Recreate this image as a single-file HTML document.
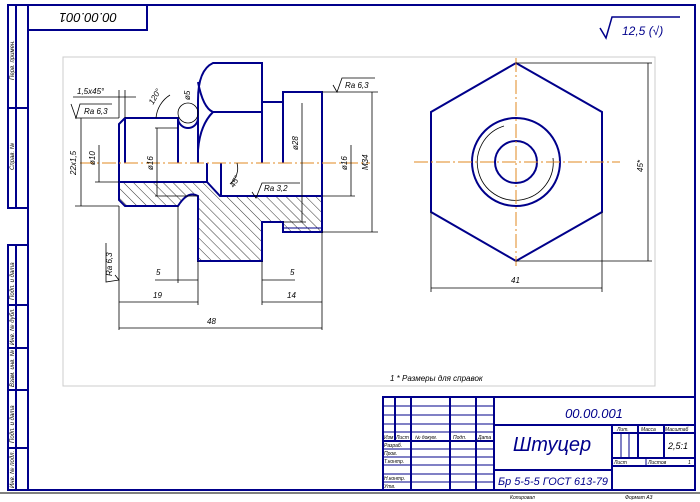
<!DOCTYPE html>
<html><head><meta charset="utf-8"><style>html,body{margin:0;padding:0;background:#fff}svg{display:block}</style></head>
<body>
<svg width="700" height="502" viewBox="0 0 700 502" xmlns="http://www.w3.org/2000/svg" font-family="Liberation Sans, sans-serif" font-style="italic">
<defs>
<pattern id="h" patternUnits="userSpaceOnUse" width="7" height="7" patternTransform="rotate(-45)">
<line x1="0" y1="0" x2="0" y2="7" stroke="#000" stroke-width="0.8"/>
</pattern>
</defs>
<rect x="0" y="0" width="700" height="502" fill="#fff"/>
<rect x="63" y="57" width="592" height="329" fill="none" stroke="#ccc" stroke-width="1"/>
<g fill="none" stroke="#00008b" stroke-width="2">
<rect x="28" y="5" width="667" height="485"/>
<rect x="28" y="5" width="119" height="25"/>
<rect x="8" y="5" width="20" height="203"/>
<line x1="16" y1="5" x2="16" y2="208"/><line x1="8" y1="108" x2="28" y2="108"/>
<rect x="8" y="245" width="20" height="245"/>
<line x1="16" y1="245" x2="16" y2="490"/>
<line x1="8" y1="305" x2="28" y2="305"/><line x1="8" y1="348" x2="28" y2="348"/>
<line x1="8" y1="390" x2="28" y2="390"/><line x1="8" y1="448" x2="28" y2="448"/>
</g>
<line x1="0" y1="493" x2="700" y2="493" stroke="#000" stroke-width="1"/>
<text x="88" y="23" font-size="13" fill="#000" text-anchor="middle" transform="rotate(180 88 18)">00.00.001</text>
<g font-size="6" fill="#000">
<text transform="translate(14,80) rotate(-90)">Перв. примен.</text>
<text transform="translate(14,170) rotate(-90)">Справ. №</text>
<text transform="translate(14,300) rotate(-90)">Подп. и дата</text>
<text transform="translate(14,345) rotate(-90)">Инв. № дубл.</text>
<text transform="translate(14,387) rotate(-90)">Взам. инв. №</text>
<text transform="translate(14,443) rotate(-90)">Подп. и дата</text>
<text transform="translate(14,488) rotate(-90)">Инв. № подл.</text>
</g>
<path d="M600,28 L606,38 L612,17 L680,17" fill="none" stroke="#00008b" stroke-width="1.5"/>
<text x="622" y="35" font-size="12" fill="#00008b">12,5 (√)</text>

<path d="M119,182 L207,182 L220,196 L322,196 L322,232 L283,232 L283,222 L262,222 L262,261 L198,261 L198,196 Q188,190 178,206 L125,206 L119,200 Z" fill="url(#h)" stroke="none"/>
<g fill="none" stroke="#00008b" stroke-width="2">
<path d="M119,182 L207,182 L220,196 L322,196 L322,232 L283,232 L283,222 L262,222 L262,261 L198,261 L198,196 Q188,190 178,206 L125,206 L119,200 Z"/>
<path d="M119,182 L119,124 L125,118 L178,118 A10,10 0 0 0 198,118"/>
<line x1="125" y1="118" x2="125" y2="163"/>
<line x1="178" y1="118" x2="178" y2="163"/>
<path d="M198,163 L198,100 Q198,70 213,63 L262,63 L262,163"/>
<path d="M198,82 Q203,108 213,112 L262,112"/>
<path d="M213,112 Q200,125 198,150"/>
<path d="M262,102 L283,102"/>
<path d="M283,163 L283,92 L322,92 L322,196"/>
<line x1="207" y1="163" x2="207" y2="182"/>
<line x1="221" y1="163" x2="221" y2="196"/>
<line x1="283" y1="228" x2="322" y2="228" stroke-width="1"/>
</g>
<line x1="80" y1="163" x2="370" y2="163" stroke="#e08a20" stroke-width="1" stroke-dasharray="14,3,2,3"/>
<circle cx="188" cy="113" r="10" fill="none" stroke="#000" stroke-width="0.8"/>
<g stroke="#000" stroke-width="0.8" fill="none">
<line x1="119" y1="206" x2="119" y2="330"/><line x1="198" y1="261" x2="198" y2="305"/>
<line x1="262" y1="261" x2="262" y2="305"/><line x1="322" y1="232" x2="322" y2="330"/>
<line x1="178" y1="206" x2="178" y2="283"/>
<line x1="119" y1="302" x2="198" y2="302"/><line x1="262" y1="302" x2="322" y2="302"/>
<line x1="119" y1="328" x2="322" y2="328"/>
<line x1="155" y1="280" x2="198" y2="280"/><line x1="262" y1="280" x2="295" y2="280"/>
<line x1="81" y1="118" x2="81" y2="206"/><line x1="75" y1="118" x2="119" y2="118"/><line x1="75" y1="206" x2="119" y2="206"/>
<line x1="99" y1="145" x2="99" y2="182"/><line x1="95" y1="182" x2="119" y2="182"/>
<line x1="157" y1="128" x2="157" y2="196"/><line x1="155" y1="128" x2="178" y2="128"/><line x1="155" y1="196" x2="198" y2="196"/>
<line x1="322" y1="92" x2="378" y2="92"/><line x1="322" y1="232" x2="378" y2="232"/>
<line x1="372" y1="92" x2="372" y2="232"/>
<line x1="351" y1="145" x2="351" y2="196"/><line x1="322" y1="196" x2="355" y2="196"/>
<line x1="302" y1="103" x2="302" y2="222"/><line x1="283" y1="222" x2="306" y2="222"/>
<line x1="73" y1="97" x2="136" y2="97"/><line x1="119" y1="90" x2="119" y2="118"/><line x1="125" y1="90" x2="125" y2="118"/>
<path d="M156,118 A30,30 0 0 1 170,95"/>
<path d="M237,163 A20,20 0 0 1 230,184"/>
<path d="M71,104 L76,118 L80,104 L112,104"/>
<path d="M333,85 L337,92 L342,78 L375,78"/>
<path d="M252,192 L256,198 L262,183 L300,183"/>
<path d="M115,275 L119,280 L106,282 L106,243"/>
</g>
<g fill="#000" font-size="8">
<text x="77" y="94">1,5x45°</text>
<text x="84" y="114">Ra 6,3</text>
<text x="345" y="88">Ra 6,3</text>
<text x="264" y="191">Ra 3,2</text>
<text transform="translate(112,276) rotate(-90)">Ra 6,3</text>
<text x="156" y="275">5</text><text x="290" y="275">5</text>
<text x="153" y="298">19</text><text x="287" y="298">14</text>
<text x="207" y="324">48</text>
<text transform="translate(76,175) rotate(-90)">22x1,5</text>
<text transform="translate(95,165) rotate(-90)">ø10</text>
<text transform="translate(153,170) rotate(-90)">ø16</text>
<text transform="translate(298,150) rotate(-90)">ø28</text>
<text transform="translate(347,170) rotate(-90)">ø16</text>
<text transform="translate(368,170) rotate(-90)">M34</text>
<text transform="translate(190,100) rotate(-90)">ø5</text>
<text transform="translate(153,105) rotate(-60)">120°</text>
<text transform="translate(234,188) rotate(-60)">45°</text>
</g>
<polygon points="516,63 602,112 602,212 516,261 431,212 431,112" fill="none" stroke="#00008b" stroke-width="2"/>
<circle cx="516" cy="162" r="44" fill="none" stroke="#00008b" stroke-width="2"/>
<circle cx="516" cy="162" r="21" fill="none" stroke="#00008b" stroke-width="2"/>
<path d="M504,126 A38,38 0 1 0 553,158" fill="none" stroke="#000" stroke-width="0.8"/>
<line x1="414" y1="162" x2="620" y2="162" stroke="#e08a20" stroke-width="1" stroke-dasharray="14,3,2,3"/>
<line x1="516" y1="58" x2="516" y2="266" stroke="#e08a20" stroke-width="1" stroke-dasharray="14,3,2,3"/>
<g stroke="#000" stroke-width="0.8">
<line x1="516" y1="63" x2="652" y2="63"/><line x1="516" y1="261" x2="652" y2="261"/>
<line x1="648" y1="63" x2="648" y2="261"/>
<line x1="431" y1="212" x2="431" y2="292"/><line x1="602" y1="212" x2="602" y2="292"/>
<line x1="431" y1="288" x2="602" y2="288"/>
</g>
<text x="511" y="283" font-size="8">41</text>
<text transform="translate(643,172) rotate(-90)" font-size="8">45*</text>
<text x="390" y="381" font-size="8">1  * Размеры для справок</text>
<g fill="none" stroke="#00008b" stroke-width="2">
<rect x="383" y="397" width="312" height="93"/>
<line x1="395" y1="397" x2="395" y2="441"/><line x1="411" y1="397" x2="411" y2="490"/>
<line x1="450" y1="397" x2="450" y2="490"/><line x1="476" y1="397" x2="476" y2="490"/>
<line x1="494" y1="397" x2="494" y2="490"/>
<line x1="494" y1="425" x2="695" y2="425"/><line x1="494" y1="470" x2="612" y2="470"/>
<line x1="612" y1="425" x2="612" y2="490"/><line x1="612" y1="458" x2="695" y2="458"/>
<line x1="612" y1="466" x2="695" y2="466"/><line x1="612" y1="433" x2="695" y2="433"/>
<line x1="638" y1="425" x2="638" y2="458"/><line x1="664" y1="425" x2="664" y2="458"/>
<line x1="383" y1="441" x2="494" y2="441"/>
</g>
<g stroke="#00008b" stroke-width="1">
<line x1="383" y1="406" x2="494" y2="406"/><line x1="383" y1="415" x2="494" y2="415"/>
<line x1="383" y1="424" x2="494" y2="424"/><line x1="383" y1="432" x2="494" y2="432"/>
<line x1="383" y1="449" x2="494" y2="449"/><line x1="383" y1="457" x2="494" y2="457"/>
<line x1="383" y1="465" x2="494" y2="465"/><line x1="383" y1="474" x2="494" y2="474"/>
<line x1="383" y1="482" x2="494" y2="482"/>
<line x1="621" y1="433" x2="621" y2="458"/><line x1="629" y1="433" x2="629" y2="458"/>
<line x1="646" y1="458" x2="646" y2="466"/>
</g>
<g fill="#000" font-size="5">
<text x="384" y="439">Изм</text><text x="396" y="439">Лист</text><text x="415" y="439">№ докум.</text><text x="453" y="439">Подп.</text><text x="478" y="439">Дата</text>
<text x="384" y="447">Разраб.</text><text x="384" y="455">Пров.</text><text x="384" y="463">Т.контр.</text>
<text x="384" y="480">Н.контр.</text><text x="384" y="488">Утв.</text>
<text x="617" y="431">Лит.</text><text x="641" y="431">Масса</text><text x="665" y="431">Масштаб</text>
<text x="614" y="464">Лист</text><text x="648" y="464">Листов</text><text x="688" y="464">1</text>
<text x="510" y="499">Копировал</text><text x="625" y="499">Формат    A3</text>
</g>
<text x="594" y="418" font-size="13" fill="#00008b" text-anchor="middle">00.00.001</text>
<text x="552" y="451" font-size="20" fill="#00008b" text-anchor="middle">Штуцер</text>
<text x="553" y="485" font-size="11" fill="#00008b" text-anchor="middle" textLength="110" lengthAdjust="spacingAndGlyphs">Бр 5-5-5 ГОСТ 613-79</text>
<text x="678" y="449" font-size="9" fill="#000" text-anchor="middle">2,5:1</text>
</svg>
</body></html>
